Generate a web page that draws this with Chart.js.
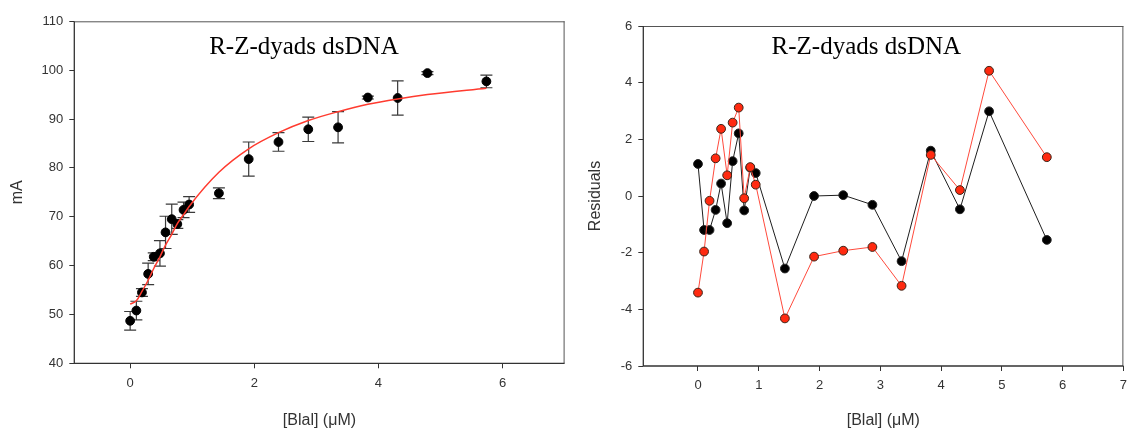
<!DOCTYPE html>
<html>
<head>
<meta charset="utf-8">
<title>R-Z-dyads dsDNA</title>
<script src="https://cdn.jsdelivr.net/npm/chart.js@4/dist/chart.umd.min.js"></script>
<style>
  html, body { margin: 0; padding: 0; background: #ffffff; }
  #wrap { position: relative; width: 1134px; height: 430px; overflow: hidden; background: #ffffff; }
  canvas { position: absolute; top: 0; }
  #fitChart { left: 0; }
  #residChart { left: 570px; }
</style>
</head>
<body>
<div id="wrap">
  <canvas id="fitChart" width="570" height="430"></canvas>
  <canvas id="residChart" width="564" height="430"></canvas>
</div>
<script>
// [Blal] concentrations (µM)
const concentration = [0, 0.10, 0.19, 0.29, 0.38, 0.48, 0.57, 0.67, 0.76, 0.86, 0.95, 1.43, 1.91, 2.39, 2.87, 3.35, 3.83, 4.31, 4.79, 5.74];
// Measured signal (mA) and its standard deviation
const signal = [48.7, 50.8, 54.5, 58.3, 61.8, 62.5, 66.8, 69.5, 68.5, 71.4, 72.5, 74.8, 81.8, 85.3, 87.9, 88.3, 94.4, 94.3, 99.4, 97.7];
const signalError = [1.9, 1.9, 0.8, 2.2, 0.8, 2.6, 3.3, 3.1, 0.9, 1.6, 1.6, 1.1, 3.5, 1.9, 2.5, 3.2, 0.3, 3.5, 0.3, 1.3];
// Fitted binding curve evaluated at each concentration
const fitCurve = [52.1, 52.8, 54.7, 57.0, 59.4, 61.8, 64.2, 66.4, 68.6, 70.4, 72.1, 79.1, 83.9, 87.2, 89.7, 91.5, 93.0, 94.1, 95.0, 96.3];
// Residuals of the two models
const residualsBlack = [1.13, -1.20, -1.20, -0.49, 0.44, -0.96, 1.23, 2.21, -0.51, 1.00, 0.81, -2.56, 0.00, 0.03, -0.31, -2.30, 1.60, -0.47, 2.99, -1.55];
const residualsRed = [-3.41, -1.96, -0.17, 1.33, 2.37, 0.73, 2.59, 3.12, -0.08, 1.02, 0.40, -4.32, -2.14, -1.93, -1.80, -3.17, 1.45, 0.21, 4.42, 1.37];
// Tick values
const fitXTicks = [0, 2, 4, 6];
const fitYTicks = [40, 50, 60, 70, 80, 90, 100, 110];
const residXTicks = [0, 1, 2, 3, 4, 5, 6, 7];
const residYTicks = [-6, -4, -2, 0, 2, 4, 6];

const chartTitle = 'R-Z-dyads dsDNA';
const xTitle = '[Blal] (\u03BCM)';

const SANS = "'Liberation Sans', Arial, sans-serif";
const SERIF = "'Liberation Serif', 'Times New Roman', serif";
const AXIS_DARK = '#333333';

const toPoints = (ys) => concentration.map((x, i) => ({ x: x, y: ys[i] }));

// Box around the plot area: dark left/bottom axes, slightly lighter top/right edges
const frame = {
  id: 'frame',
  beforeDatasetsDraw(chart) {
    const { ctx, chartArea: a } = chart;
    ctx.save();
    ctx.lineWidth = 1;
    ctx.strokeStyle = '#555555';
    ctx.beginPath();
    ctx.moveTo(a.left, a.top + 0.5); ctx.lineTo(a.right, a.top + 0.5);
    ctx.moveTo(a.right - 0.5, a.top); ctx.lineTo(a.right - 0.5, a.bottom);
    ctx.stroke();
    ctx.strokeStyle = AXIS_DARK;
    ctx.lineWidth = 1.3;
    ctx.beginPath();
    ctx.moveTo(a.left, a.top); ctx.lineTo(a.left, a.bottom);
    ctx.lineTo(a.right, a.bottom);
    ctx.stroke();
    ctx.restore();
  }
};

// Title text inside the plot area
const innerTitle = {
  id: 'innerTitle',
  afterDraw(chart, args, opts) {
    const { ctx, chartArea: a } = chart;
    ctx.save();
    ctx.font = '25px ' + SERIF;
    ctx.fillStyle = '#000000';
    ctx.textAlign = 'center';
    ctx.textBaseline = 'middle';
    ctx.fillText(opts.text, (a.left + a.right) / 2 + opts.dx, opts.y);
    ctx.restore();
  }
};

// Vertical error bars with caps, drawn from the error array
const errorBars = {
  id: 'errorBars',
  beforeDatasetsDraw(chart) {
    const { ctx } = chart;
    const xs = chart.scales.x, ys = chart.scales.y;
    ctx.save();
    ctx.strokeStyle = '#3a3a3a';
    ctx.lineWidth = 1.2;
    concentration.forEach((c, i) => {
      const px = xs.getPixelForValue(c);
      const top = ys.getPixelForValue(signal[i] + signalError[i]);
      const bot = ys.getPixelForValue(signal[i] - signalError[i]);
      ctx.beginPath();
      ctx.moveTo(px, top); ctx.lineTo(px, bot);
      ctx.moveTo(px - 6, top); ctx.lineTo(px + 6, top);
      ctx.moveTo(px - 6, bot); ctx.lineTo(px + 6, bot);
      ctx.stroke();
    });
    ctx.restore();
  }
};

function axisX(tickValues, height) {
  return {
    type: 'linear',
    min: -0.9,
    max: 7,
    afterBuildTicks(scale) { scale.ticks = tickValues.map(v => ({ value: v })); },
    afterFit(scale) { scale.height = height; },
    border: { display: false },
    grid: { display: true, drawOnChartArea: false, drawTicks: true, tickLength: 5, color: AXIS_DARK, lineWidth: 1 },
    ticks: { color: AXIS_DARK, font: { family: SANS, size: 13 }, padding: 7, maxRotation: 0 },
    title: { display: true, text: xTitle, color: AXIS_DARK, font: { family: SANS, size: 16 }, padding: { top: 0, bottom: 0 } }
  };
}

function axisY(tickValues, min, max, width, label, titlePad) {
  return {
    type: 'linear',
    min: min,
    max: max,
    afterBuildTicks(scale) { scale.ticks = tickValues.map(v => ({ value: v })); },
    afterFit(scale) { scale.width = width; },
    border: { display: false },
    grid: { display: true, drawOnChartArea: false, drawTicks: true, tickLength: 5, color: AXIS_DARK, lineWidth: 1 },
    ticks: { color: AXIS_DARK, font: { family: SANS, size: 13 }, padding: 6 },
    title: { display: true, text: label, color: AXIS_DARK, font: { family: SANS, size: 16 }, padding: { top: titlePad, bottom: 0 } }
  };
}

new Chart(document.getElementById('fitChart'), {
  type: 'line',
  data: {
    datasets: [
      {
        label: 'fit',
        data: toPoints(fitCurve),
        borderColor: '#ff3b2f',
        borderWidth: 1.5,
        pointRadius: 0,
        fill: false,
        cubicInterpolationMode: 'monotone'
      },
      {
        label: 'mA',
        data: toPoints(signal),
        showLine: false,
        pointRadius: 4.4,
        pointBackgroundColor: '#000000',
        pointBorderColor: '#000000',
        pointBorderWidth: 1
      }
    ]
  },
  options: {
    responsive: false,
    animation: false,
    layout: { padding: { left: 0, top: 21.3, right: 5.3, bottom: 0 } },
    plugins: {
      legend: { display: false },
      tooltip: { enabled: false },
      innerTitle: { text: chartTitle, dx: -15.5, y: 47 }
    },
    scales: {
      x: axisX(fitXTicks, 66.7),
      y: axisY(fitYTicks, 40, 110, 74.3, 'mA', 7.5)
    }
  },
  plugins: [frame, errorBars, innerTitle]
});

new Chart(document.getElementById('residChart'), {
  type: 'line',
  data: {
    datasets: [
      {
        label: 'red',
        data: toPoints(residualsRed),
        borderColor: '#ff4a3c',
        borderWidth: 1,
        pointRadius: 4.4,
        pointBackgroundColor: '#ff2a10',
        pointBorderColor: '#3a2418',
        pointBorderWidth: 1,
        fill: false,
        tension: 0
      },
      {
        label: 'black',
        data: toPoints(residualsBlack),
        borderColor: '#1e1e1e',
        borderWidth: 1,
        pointRadius: 4.4,
        pointBackgroundColor: '#000000',
        pointBorderColor: '#222222',
        pointBorderWidth: 1,
        fill: false,
        tension: 0
      }
    ]
  },
  options: {
    responsive: false,
    animation: false,
    layout: { padding: { left: 0, top: 26, right: 6.7, bottom: 0 } },
    plugins: {
      legend: { display: false },
      tooltip: { enabled: false },
      innerTitle: { text: chartTitle, dx: -17, y: 47 }
    },
    scales: {
      x: axisX(residXTicks, 64),
      y: axisY(residYTicks, -6, 6, 73.3, 'Residuals', 15.9)
    }
  },
  plugins: [frame, innerTitle]
});
</script>
</body>
</html>
